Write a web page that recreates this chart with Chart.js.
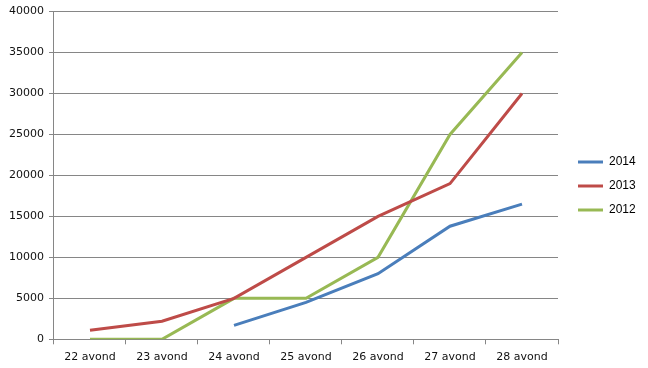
<!DOCTYPE html>
<html>
<head>
<meta charset="utf-8">
<script src="https://cdn.jsdelivr.net/npm/chart.js@4/dist/chart.umd.min.js"></script>
<style>
  html, body { margin: 0; padding: 0; background: #fff; }
  #wrap { width: 648px; height: 368px; }
</style>
</head>
<body>
<div id="wrap"><canvas id="c" width="648" height="368"></canvas></div>
<script>
// categories + series
const days = ['22 avond', '23 avond', '24 avond', '25 avond', '26 avond', '27 avond', '28 avond'];
const y2014 = [null, null, 1700, 4500, 8000, 13800, 16500];
const y2013 = [1100, 2200, 5000, 10000, 15000, 19000, 30000];
const y2012 = [0, 0, 5000, 5000, 10000, 25000, 35000];

const axisFont = { family: 'DejaVu Sans', size: 11 };
const gridGrey = '#868686';
const legendWidth = 90;

function series(label, data, color) {
    return {
        label: label,
        data: data,
        borderColor: color,
        backgroundColor: color,
        borderWidth: 3,
        pointRadius: 0,
        tension: 0,
        spanGaps: false
    };
}

// widen the legend box so the plot stops where the reference's does,
// then nudge the legend entries a little to the right / up
const legendWidthPlugin = {
    id: 'legendWidth',
    beforeUpdate(chart) {
        const lg = chart.legend;
        if (!lg || lg._patched) return;
        const orig = lg.fit;
        lg.fit = function () {
            orig.call(this);
            this.width = legendWidth;
        };
        lg._patched = true;
    },
    afterLayout(chart) {
        const lg = chart.legend;
        lg.left += 8; lg.right += 8;
        lg.top -= 4; lg.bottom -= 4;
    }
};

new Chart(document.getElementById('c'), {
    type: 'line',
    data: {
        labels: days,
        datasets: [
            series('2014', y2014, '#4A7EBB'),
            series('2013', y2013, '#BE4B48'),
            series('2012', y2012, '#98B954')
        ]
    },
    plugins: [legendWidthPlugin],
    options: {
        responsive: false,
        animation: false,
        layout: { padding: { top: 10, left: 4, right: 0, bottom: -2 } },
        plugins: {
            tooltip: { enabled: false },
            legend: {
                position: 'right',
                labels: {
                    usePointStyle: true,
                    pointStyle: 'line',
                    pointStyleWidth: 25,
                    boxWidth: 25,
                    padding: 12,
                    color: '#000',
                    font: { family: 'Liberation Sans', size: 12 }
                }
            }
        },
        scales: {
            x: {
                offset: true,
                grid: {
                    offset: true,
                    drawOnChartArea: false,
                    tickLength: 5,
                    color: gridGrey
                },
                border: { color: gridGrey },
                ticks: {
                    color: '#111',
                    font: { family: 'DejaVu Sans', size: 11, lineHeight: 0.7 },
                    maxRotation: 0,
                    padding: 9
                }
            },
            y: {
                min: 0,
                max: 40000,
                grid: { color: gridGrey, tickLength: 5 },
                border: { color: gridGrey },
                ticks: {
                    stepSize: 5000,
                    color: '#111',
                    font: axisFont,
                    padding: 5,
                    callback: v => String(v)
                }
            }
        }
    }
});
</script>
</body>
</html>
